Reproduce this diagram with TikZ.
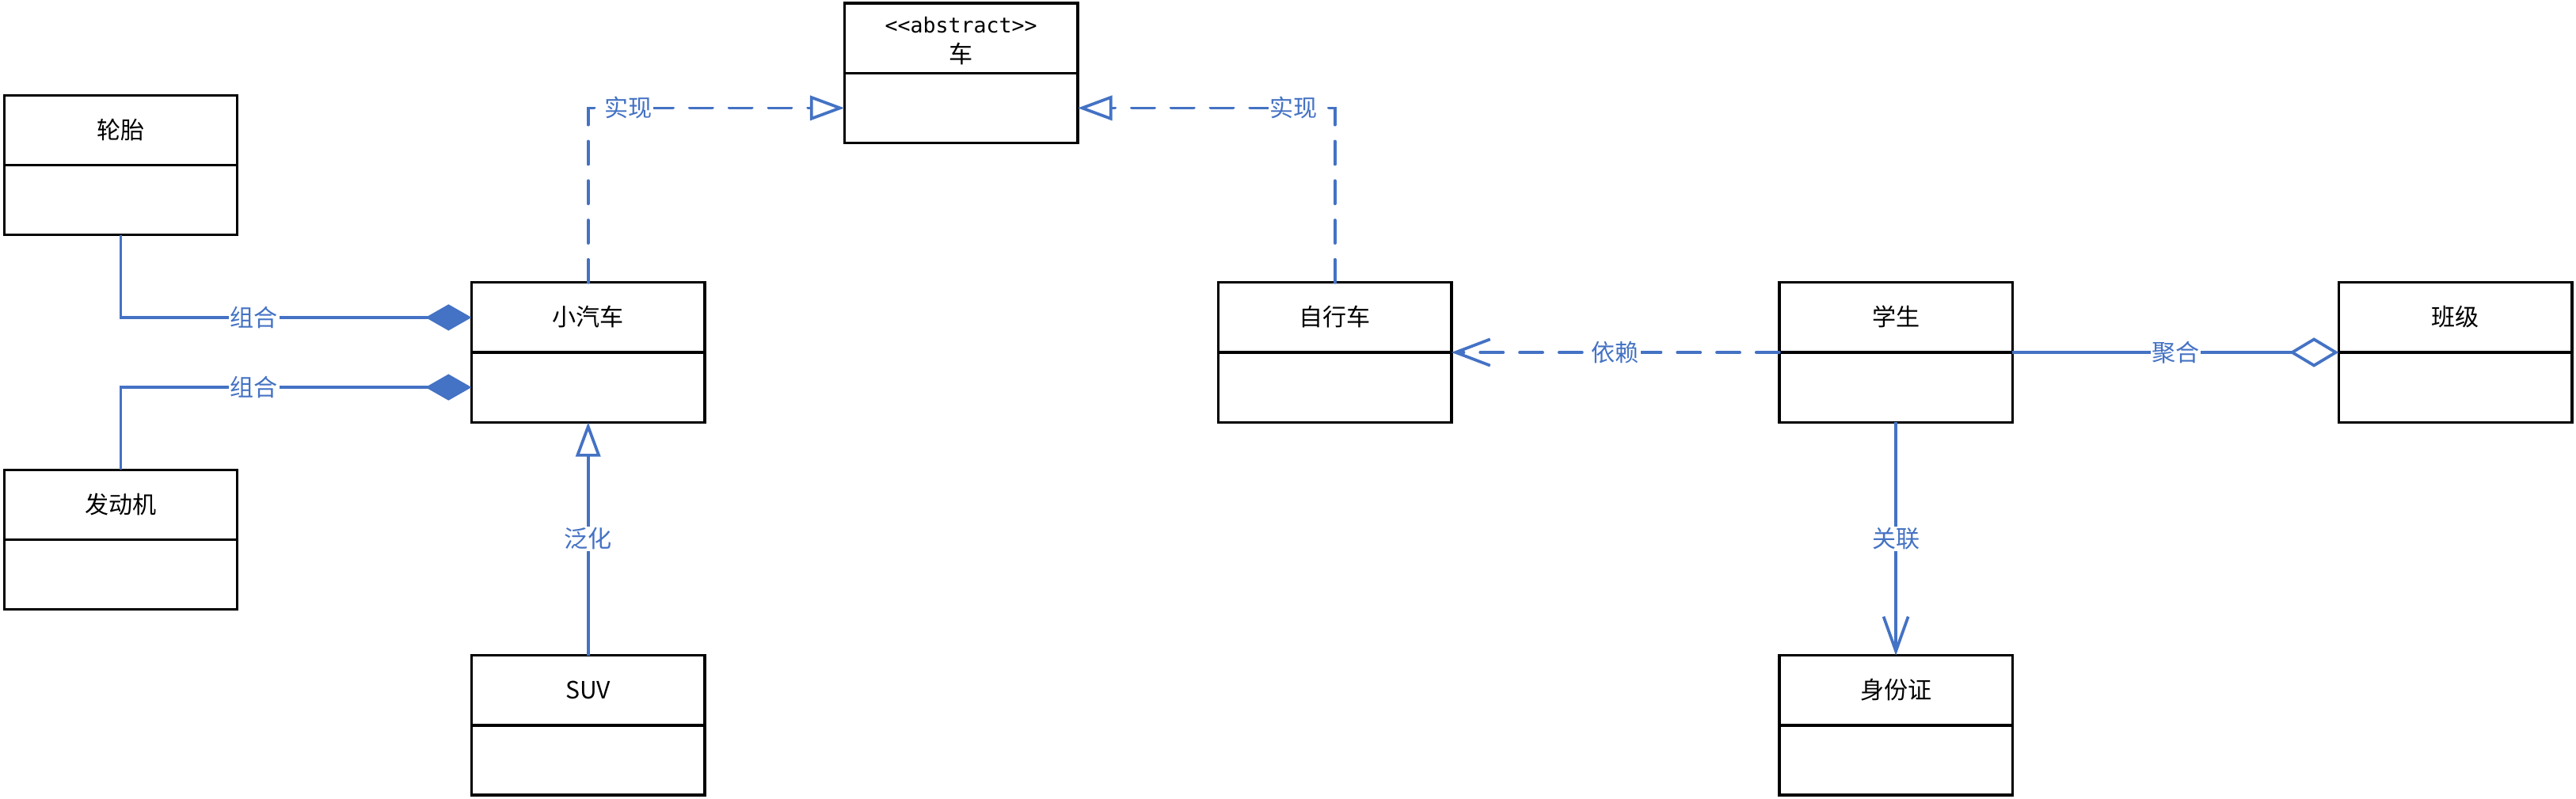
\documentclass[tikz,border=0pt]{standalone}
\usepackage{fontspec}
\setmainfont{Noto Sans CJK SC}
\setmonofont{DejaVu Sans Mono}
\usetikzlibrary{arrows.meta,calc}
\definecolor{umlblue}{HTML}{4472C4}
\begin{document}
\begin{tikzpicture}[x=1pt,y=-1pt,
  cls/.style={draw=black, line width=1.6pt, minimum width=142pt, minimum height=85pt, inner sep=0pt, outer sep=0pt},
  divline/.style={draw=black, line width=1.6pt},
  ctitle/.style={font=\fontsize{14.5}{17}\selectfont, inner sep=0pt},
  stereo/.style={font=\ttfamily\fontsize{12.8}{15}\selectfont, inner sep=0pt},
  rel/.style={draw=umlblue, line width=1.8pt},
  dsh/.style={dash pattern=on 14pt off 10pt, line cap=round},
  lbl/.style={fill=white, text=umlblue, font=\fontsize{14.5}{17}\selectfont, inner sep=0.8pt},
  realize/.style={rel, dsh, -{Triangle[open, length=21pt, width=15pt]}},
  general/.style={rel, -{Triangle[open, length=21pt, width=15pt]}},
  compose/.style={rel, -{Diamond[length=28pt, width=16pt, fill=umlblue]}},
  aggreg/.style={rel, -{Diamond[open, length=30pt, width=18pt, fill=white]}},
  depend/.style={rel, dsh, -{Straight Barb[length=21pt, width=16pt]}},
  assoc/.style={rel, -{Straight Barb[length=21pt, width=15pt]}},
]
\useasboundingbox (0,0) rectangle (1568,486);

% classes
\node[cls] (che) at (585,44.5) {};
\node[cls] (luntai) at (73.5,100.5) {};
\node[cls] (xiao) at (358,214.5) {};
\node[cls] (fdj) at (73.5,328.5) {};
\node[cls] (suv) at (358,441.5) {};
\node[cls] (zxc) at (812.5,214.5) {};
\node[cls] (xs) at (1154,214.5) {};
\node[cls] (bj) at (1494.5,214.5) {};
\node[cls] (sfz) at (1154,441.5) {};

\foreach \n in {che,luntai,xiao,fdj,suv,zxc,xs,bj,sfz}{
  \draw[divline] (\n.west) -- (\n.east);
}

% titles
\node[stereo] (cheS) at ($(che.north)+(0,13)$) {<{}<abstract>{}>};
\node[ctitle] (cheT) at ($(che.north)+(0,31)$) {车};
\node[ctitle] (luntaiT) at ($(luntai.north)+(0,21)$) {轮胎};
\node[ctitle] (xiaoT) at ($(xiao.north)+(0,21)$) {小汽车};
\node[ctitle] (fdjT) at ($(fdj.north)+(0,21)$) {发动机};
\node[ctitle] (suvT) at ($(suv.north)+(0,21)$) {SUV};
\node[ctitle] (zxcT) at ($(zxc.north)+(0,21)$) {自行车};
\node[ctitle] (xsT) at ($(xs.north)+(0,21)$) {学生};
\node[ctitle] (bjT) at ($(bj.north)+(0,21)$) {班级};
\node[ctitle] (sfzT) at ($(sfz.north)+(0,21)$) {身份证};

% relations
\draw[realize] (xiao.north) |- ([yshift=-21.25pt]che.west)
  node[lbl, pos=0.578] {实现};
\draw[realize] (zxc.north) |- ([yshift=-21.25pt]che.east)
  node[lbl, pos=0.58] {实现};
\draw[compose] (luntai.south) |- ([yshift=21.25pt]xiao.west)
  node[lbl, pos=0.69] {组合};
\draw[compose] (fdj.north) |- ([yshift=-21.25pt]xiao.west)
  node[lbl, pos=0.69] {组合};
\draw[general] (suv.north) -- (xiao.south) node[lbl, pos=0.5] {泛化};
\draw[depend] (xs.west) -- (zxc.east) node[lbl, pos=0.5] {依赖};
\draw[aggreg] (xs.east) -- (bj.west) node[lbl, pos=0.5] {聚合};
\draw[assoc] (xs.south) -- (sfz.north) node[lbl, pos=0.5] {关联};
\end{tikzpicture}
\end{document}
